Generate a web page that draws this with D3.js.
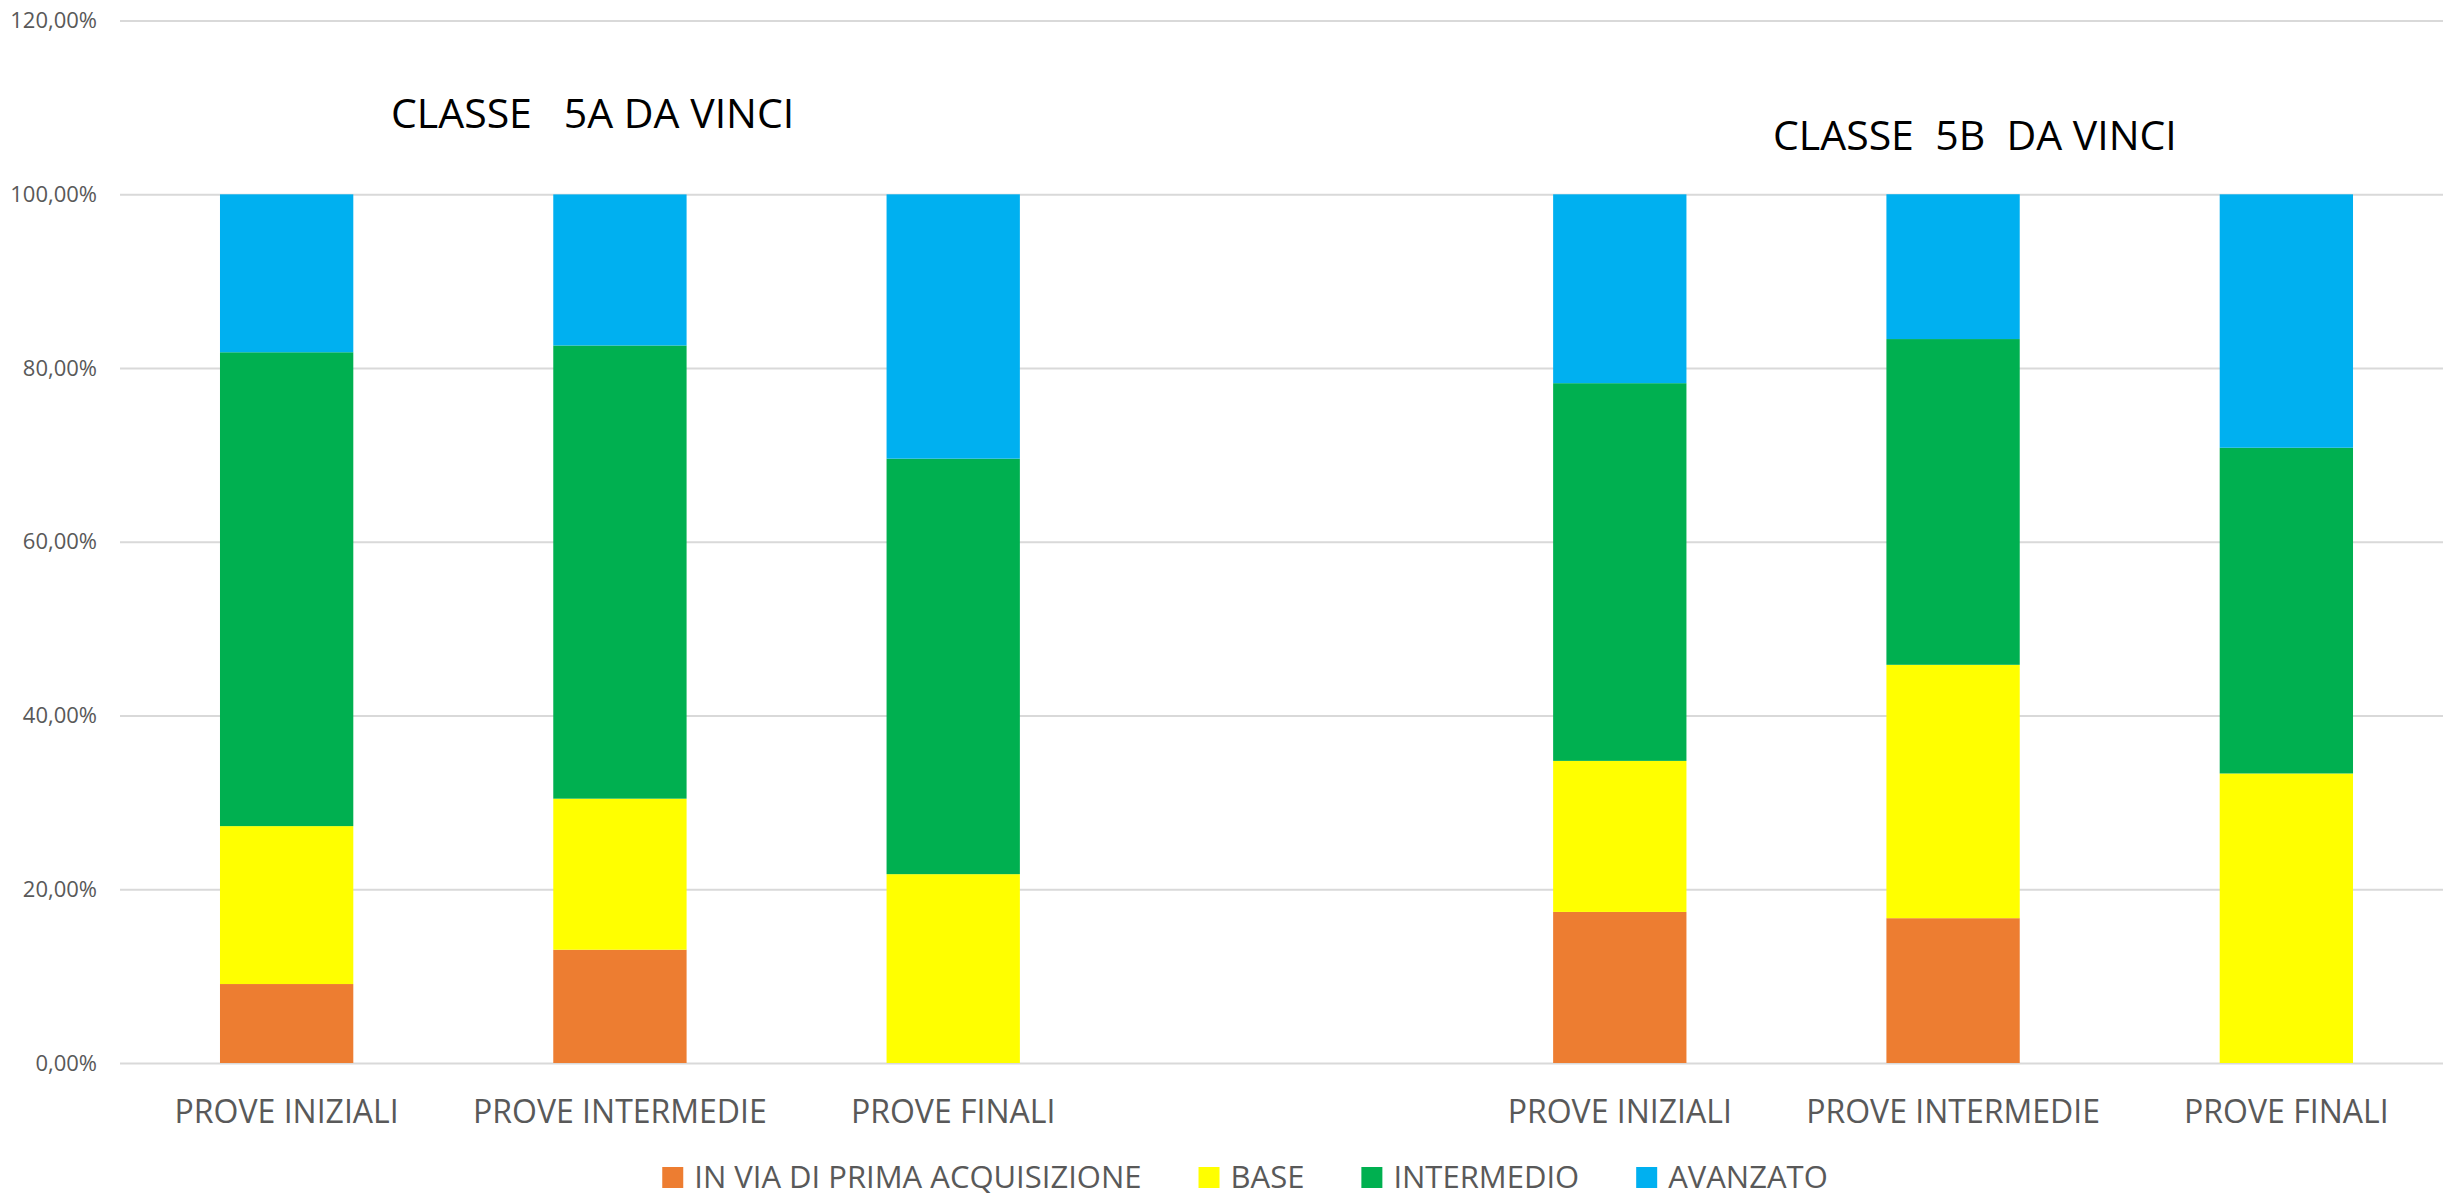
<!DOCTYPE html>
<html>
<head>
<meta charset="utf-8">
<script src="https://cdn.jsdelivr.net/npm/d3@7"></script>
<style>
  html, body { margin: 0; padding: 0; background: #fff; }
  svg { display: block; }
  text { font-family: "Open Sans", "Noto Sans", sans-serif; }
</style>
</head>
<body>
<script>
// chart values (percent of the class)
var categories = ["PROVE INIZIALI", "PROVE INTERMEDIE", "PROVE FINALI", "",
                  "PROVE INIZIALI", "PROVE INTERMEDIE", "PROVE FINALI"];
var seriesNames = ["IN VIA DI PRIMA ACQUISIZIONE", "BASE", "INTERMEDIO", "AVANZATO"];
var inVia      = [9.09, 13.04, 0,     null, 17.39, 16.67, 0];
var base       = [18.18, 17.39, 21.74, null, 17.39, 29.17, 33.33];
var intermedio = [54.55, 52.17, 47.83, null, 43.48, 37.50, 37.50];
var avanzato   = [18.18, 17.39, 30.43, null, 21.74, 16.67, 29.17];
var yTicks = [0, 0.2, 0.4, 0.6, 0.8, 1.0, 1.2];
var titles = ["CLASSE   5A DA VINCI", "CLASSE  5B  DA VINCI"];

var colors = ["#ED7D31", "#FFFF00", "#00B050", "#00B0F0"];

var width = 2443,
	height = 1197,
	plotLeft = 120,
	plotRight = 2453,
	plotTop = 20.6,
	plotBottom = 1063;

var svg = d3.select("body").append("svg")
	.attr("width", width)
	.attr("height", height);

var rows = categories.map(function(c, i) {
	return {i: i, a: (inVia[i] || 0) / 100, b: (base[i] || 0) / 100,
	        c: (intermedio[i] || 0) / 100, d: (avanzato[i] || 0) / 100};
});

var x = d3.scaleBand()
	.domain(d3.range(categories.length))
	.range([plotLeft, plotRight])
	.paddingInner(0.6)
	.paddingOuter(0.3);

var y = d3.scaleLinear()
	.domain([0, 1.2])
	.range([plotBottom, plotTop]);

var pct = d3.formatLocale({decimal: ",", thousands: ".", grouping: [3], currency: ["", "€"]}).format(".2%");

// grid + y labels
var yAxis = svg.append("g")
	.attr("transform", "translate(" + plotLeft + ",0)")
	.call(d3.axisLeft(y).tickValues(yTicks).tickFormat(pct)
		.tickSize(-(plotRight - plotLeft)).tickPadding(23));
yAxis.select(".domain").remove();
yAxis.selectAll(".tick line").attr("stroke", "#d9d9d9").attr("stroke-width", 2);
yAxis.selectAll(".tick text")
	.attr("fill", "#595959")
	.style("font-size", "22px");

// stacked bars
var stack = d3.stack().keys(["a", "b", "c", "d"]);
var layers = stack(rows);

svg.append("g").selectAll("g")
	.data(layers)
	.join("g")
	.attr("fill", function(d, k) { return colors[k]; })
	.selectAll("rect")
	.data(function(d) { return d.filter(function(p) { return p[1] - p[0] > 0; }); })
	.join("rect")
	.attr("x", function(p) { return x(p.data.i); })
	.attr("width", x.bandwidth())
	.attr("y", function(p) { return y(p[1]); })
	.attr("height", function(p) { return y(p[0]) - y(p[1]); });

// x labels
var xAxis = svg.append("g")
	.attr("transform", "translate(0," + plotBottom + ")")
	.call(d3.axisBottom(x).tickSize(0).tickPadding(0)
		.tickFormat(function(i) { return categories[i]; }));
xAxis.select(".domain").remove();
xAxis.selectAll(".tick text")
	.attr("fill", "#595959")
	.attr("dy", null)
	.attr("y", 60)
	.style("font-size", "32px");

// class titles
svg.append("text")
	.attr("x", 391).attr("y", 128)
	.style("white-space", "pre")
	.style("font-size", "41px")
	.attr("fill", "#000")
	.text(titles[0]);
svg.append("text")
	.attr("x", 1773).attr("y", 150)
	.style("white-space", "pre")
	.style("font-size", "41px")
	.attr("fill", "#000")
	.text(titles[1]);

// legend
var legend = svg.append("g");
var lx = 0;
seriesNames.forEach(function(name, k) {
	var item = legend.append("g").attr("transform", "translate(" + lx + ",0)");
	item.append("rect")
		.attr("x", 0).attr("y", 1167)
		.attr("width", 21).attr("height", 21)
		.attr("fill", colors[k]);
	var t = item.append("text")
		.attr("x", 32).attr("y", 1188)
		.attr("fill", "#595959")
		.style("font-size", "31px")
		.text(name);
	lx += 32 + t.node().getComputedTextLength() + 57;
});
var legendWidth = lx - 57;
legend.attr("transform", "translate(" + (1245 - legendWidth / 2) + ",0)");
</script>
</body>
</html>
